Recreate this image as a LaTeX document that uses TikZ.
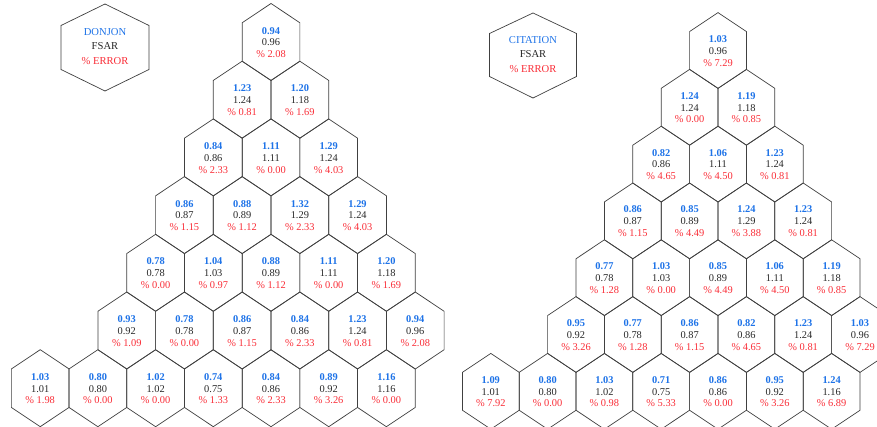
\documentclass[tikz,border=0pt]{standalone}
\usepackage{fontspec}
\setmainfont{Liberation Serif}
\definecolor{valblue}{RGB}{30,115,232}
\definecolor{errred}{RGB}{250,45,55}
\definecolor{txtgray}{RGB}{40,40,40}
\tikzset{
  hexline/.style={draw=black!75, line width=0.7pt, line join=miter},
  celltext/.style={align=center, inner sep=0pt, text=txtgray, font=\fontsize{10.4}{11.8}\selectfont},
  legendtext/.style={align=center, inner sep=0pt, text=txtgray, font=\fontsize{10.6}{14.5}\selectfont}
}
% #1 name, #2 cx, #3 cy, #4 half width, #5 R, #6 blue, #7 black, #8 red
\newcommand\hexcell[8]{%
  \draw[hexline] (#2-#4,#3-#5/2) -- (#2,#3-#5) -- (#2+#4,#3-#5/2) -- (#2+#4,#3+#5/2) -- (#2,#3+#5) -- (#2-#4,#3+#5/2) -- cycle;
  \node[celltext] (#1) at (#2,#3+0.5) {{\bfseries\color{valblue}#6}\\#7\\{\color{errred}\% #8}};
}
% left grid: row, col, name, values
\newcommand\lcell[6]{%
  \pgfmathsetmacro\cx{271+(#2-#1/2)*57.7}%
  \pgfmathsetmacro\cy{42+#1*57.7}%
  \hexcell{#3}{\cx}{\cy}{28.85}{38.5}{#4}{#5}{#6}%
}
\newcommand\rcell[6]{%
  \pgfmathsetmacro\cx{718+(#2-#1/2)*56.8}%
  \pgfmathsetmacro\cy{50.5+#1*56.8}%
  \hexcell{#3}{\cx}{\cy}{28.4}{37.9}{#4}{#5}{#6}%
}
\begin{document}
\begin{tikzpicture}[x=1pt,y=-1pt]
\useasboundingbox (0,0) rectangle (877,427);
\clip (0,0) rectangle (877,427);
\fill[white] (0,0) rectangle (877,427);

% ---- left legend ----
\draw[hexline] (61,25.5) -- (105,4) -- (149,25.5) -- (149,69.5) -- (105,91) -- (61,69.5) -- cycle;
\node[legendtext] (legL) at (105,46.5) {{\color{valblue}DONJON}\\FSAR\\{\color{errred}\% ERROR}};

% ---- right legend ----
\draw[hexline] (489.5,33.5) -- (533,13) -- (576.5,33.5) -- (576.5,76.5) -- (533,98) -- (489.5,76.5) -- cycle;
\node[legendtext] (legR) at (533,54.5) {{\color{valblue}CITATION}\\FSAR\\{\color{errred}\% ERROR}};

% ---- left grid (DONJON) ----
\lcell{0}{0}{La}{0.94}{0.96}{2.08}
\lcell{1}{0}{Lb}{1.23}{1.24}{0.81}
\lcell{1}{1}{Lc}{1.20}{1.18}{1.69}
\lcell{2}{0}{Ld}{0.84}{0.86}{2.33}
\lcell{2}{1}{Le}{1.11}{1.11}{0.00}
\lcell{2}{2}{Lf}{1.29}{1.24}{4.03}
\lcell{3}{0}{Lg}{0.86}{0.87}{1.15}
\lcell{3}{1}{Lh}{0.88}{0.89}{1.12}
\lcell{3}{2}{Li}{1.32}{1.29}{2.33}
\lcell{3}{3}{Lj}{1.29}{1.24}{4.03}
\lcell{4}{0}{Lk}{0.78}{0.78}{0.00}
\lcell{4}{1}{Ll}{1.04}{1.03}{0.97}
\lcell{4}{2}{Lm}{0.88}{0.89}{1.12}
\lcell{4}{3}{Ln}{1.11}{1.11}{0.00}
\lcell{4}{4}{Lo}{1.20}{1.18}{1.69}
\lcell{5}{0}{Lp}{0.93}{0.92}{1.09}
\lcell{5}{1}{Lq}{0.78}{0.78}{0.00}
\lcell{5}{2}{Lr}{0.86}{0.87}{1.15}
\lcell{5}{3}{Ls}{0.84}{0.86}{2.33}
\lcell{5}{4}{Lt}{1.23}{1.24}{0.81}
\lcell{5}{5}{Lu}{0.94}{0.96}{2.08}
\lcell{6}{-1}{Lv}{1.03}{1.01}{1.98}
\lcell{6}{0}{Lw}{0.80}{0.80}{0.00}
\lcell{6}{1}{Lx}{1.02}{1.02}{0.00}
\lcell{6}{2}{Ly}{0.74}{0.75}{1.33}
\lcell{6}{3}{Lz}{0.84}{0.86}{2.33}
\lcell{6}{4}{LA}{0.89}{0.92}{3.26}
\lcell{6}{5}{LB}{1.16}{1.16}{0.00}

% ---- right grid (CITATION) ----
\rcell{0}{0}{Ra}{1.03}{0.96}{7.29}
\rcell{1}{0}{Rb}{1.24}{1.24}{0.00}
\rcell{1}{1}{Rc}{1.19}{1.18}{0.85}
\rcell{2}{0}{Rd}{0.82}{0.86}{4.65}
\rcell{2}{1}{Re}{1.06}{1.11}{4.50}
\rcell{2}{2}{Rf}{1.23}{1.24}{0.81}
\rcell{3}{0}{Rg}{0.86}{0.87}{1.15}
\rcell{3}{1}{Rh}{0.85}{0.89}{4.49}
\rcell{3}{2}{Ri}{1.24}{1.29}{3.88}
\rcell{3}{3}{Rj}{1.23}{1.24}{0.81}
\rcell{4}{0}{Rk}{0.77}{0.78}{1.28}
\rcell{4}{1}{Rl}{1.03}{1.03}{0.00}
\rcell{4}{2}{Rm}{0.85}{0.89}{4.49}
\rcell{4}{3}{Rn}{1.06}{1.11}{4.50}
\rcell{4}{4}{Ro}{1.19}{1.18}{0.85}
\rcell{5}{0}{Rp}{0.95}{0.92}{3.26}
\rcell{5}{1}{Rq}{0.77}{0.78}{1.28}
\rcell{5}{2}{Rr}{0.86}{0.87}{1.15}
\rcell{5}{3}{Rs}{0.82}{0.86}{4.65}
\rcell{5}{4}{Rt}{1.23}{1.24}{0.81}
\rcell{5}{5}{Ru}{1.03}{0.96}{7.29}
\rcell{6}{-1}{Rv}{1.09}{1.01}{7.92}
\rcell{6}{0}{Rw}{0.80}{0.80}{0.00}
\rcell{6}{1}{Rx}{1.03}{1.02}{0.98}
\rcell{6}{2}{Ry}{0.71}{0.75}{5.33}
\rcell{6}{3}{Rz}{0.86}{0.86}{0.00}
\rcell{6}{4}{RA}{0.95}{0.92}{3.26}
\rcell{6}{5}{RB}{1.24}{1.16}{6.89}
\end{tikzpicture}
\end{document}
